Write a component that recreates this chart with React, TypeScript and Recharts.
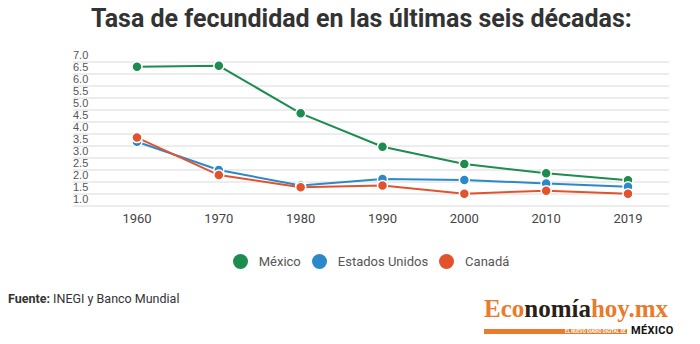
import React from 'react';
import { LineChart, Line, XAxis, YAxis, CartesianGrid, Legend } from 'recharts';

// Tasa de fecundidad (hijos por mujer)
const years = ['1960', '1970', '1980', '1990', '2000', '2010', '2019'];
const mexico = [6.8, 6.84, 4.86, 3.47, 2.75, 2.36, 2.07];
const estadosUnidos = [3.68, 2.5, 1.85, 2.12, 2.08, 1.94, 1.8];
const canada = [3.85, 2.29, 1.78, 1.85, 1.51, 1.64, 1.51];
const yTicks = [1, 1.5, 2, 2.5, 3, 3.5, 4, 4.5, 5, 5.5, 6, 6.5, 7];

const series = [
  { key: 'mexico', name: 'México', color: '#1d8c4f' },
  { key: 'estadosUnidos', name: 'Estados Unidos', color: '#2b89c9' },
  { key: 'canada', name: 'Canadá', color: '#e2532d' },
];

const data = years.map((year, i) => ({
  year,
  mexico: mexico[i],
  estadosUnidos: estadosUnidos[i],
  canada: canada[i],
}));

const YTick = (props: any) => {
  const { x, y, payload } = props;
  return (
    <text
      x={x}
      y={y - 7}
      textAnchor="start"
      dominantBaseline="central"
      fontSize={11}
      fill="#555"
      fontFamily="'Liberation Sans', Arial, sans-serif"
    >
      {Number(payload.value).toFixed(1)}
    </text>
  );
};

// legend keeps the series order (Recharts sorts by name otherwise)
const LegendContent = () => (
  <div
    style={{
      display: 'flex',
      justifyContent: 'center',
      alignItems: 'center',
      height: 24,
      fontFamily: 'Roboto, sans-serif',
      fontSize: 13,
      color: '#555',
    }}
  >
    {series.map((s, i) => (
      <span
        key={s.key}
        style={{ display: 'flex', alignItems: 'center', marginRight: i < series.length - 1 ? 11 : 0 }}
      >
        <span
          style={{
            width: 15,
            height: 15,
            borderRadius: '50%',
            background: s.color,
            marginRight: 11,
            display: 'inline-block',
          }}
        />
        {s.name}
      </span>
    ))}
  </div>
);

export default function App() {
  return (
    <div
      style={{
        position: 'absolute',
        left: 0,
        top: 0,
        width: 700,
        height: 344,
        background: '#fff',
        fontFamily: 'Roboto, sans-serif',
        overflow: 'hidden',
      }}
    >
      <div
        style={{
          position: 'absolute',
          left: 91,
          top: 4,
          whiteSpace: 'nowrap',
          fontSize: 25,
          fontWeight: 700,
          color: '#333',
        }}
      >
        Tasa de fecundidad en las últimas seis décadas:
      </div>

      <div style={{ position: 'absolute', left: 0, top: 0 }}>
        <LineChart width={700} height={293} data={data} margin={{ top: 62, right: 31, left: 73, bottom: 20 }}>
          <CartesianGrid vertical={false} stroke="#dadada" />
          <XAxis
            dataKey="year"
            axisLine={false}
            tickLine={false}
            height={43}
            padding={{ left: 64, right: 41 }}
            tick={{ fontSize: 13, fill: '#444', fontFamily: 'Roboto, sans-serif' }}
            interval={0}
          />
          <YAxis
            domain={[1, 7]}
            ticks={yTicks}
            interval={0}
            axisLine={false}
            tickLine={false}
            mirror
            tickSize={0}
            tickMargin={0}
            tick={<YTick />}
          />
          <Legend verticalAlign="bottom" content={<LegendContent />} />
          {series.map((s) => (
            <Line
              key={s.key}
              type="linear"
              dataKey={s.key}
              name={s.name}
              stroke={s.color}
              strokeWidth={2}
              dot={{ r: 5, fill: s.color, stroke: '#fff', strokeWidth: 1.5 }}
              isAnimationActive={false}
            />
          ))}
        </LineChart>
      </div>

      <div style={{ position: 'absolute', left: 8, top: 291, fontSize: 12.5, color: '#333' }}>
        <span style={{ fontWeight: 700 }}>Fuente:</span> INEGI y Banco Mundial
      </div>

      <div style={{ position: 'absolute', left: 484, top: 296, width: 192, height: 42 }}>
        <div
          style={{
            fontFamily: "'Liberation Serif', serif",
            fontWeight: 700,
            fontSize: 25,
            lineHeight: '25px',
            whiteSpace: 'nowrap',
          }}
        >
          <span style={{ color: '#ea7a2c' }}>Eco</span>
          <span style={{ color: '#2b1f17' }}>nomía</span>
          <span style={{ color: '#ea7a2c' }}>hoy.mx</span>
        </div>
        <div
          style={{
            position: 'absolute',
            left: 0,
            top: 33,
            width: 143,
            height: 5,
            background: '#ea7a2c',
            color: '#fff',
            fontSize: 4.5,
            lineHeight: '5px',
            textAlign: 'right',
            fontWeight: 700,
            whiteSpace: 'nowrap',
          }}
        >
          EL NUEVO DIARIO DIGITAL DE&nbsp;
        </div>
        <div
          style={{
            position: 'absolute',
            left: 147,
            top: 29,
            fontSize: 11,
            fontWeight: 700,
            color: '#111',
            letterSpacing: 0.3,
            lineHeight: '12px',
          }}
        >
          MÉXICO
        </div>
      </div>
    </div>
  );
}
